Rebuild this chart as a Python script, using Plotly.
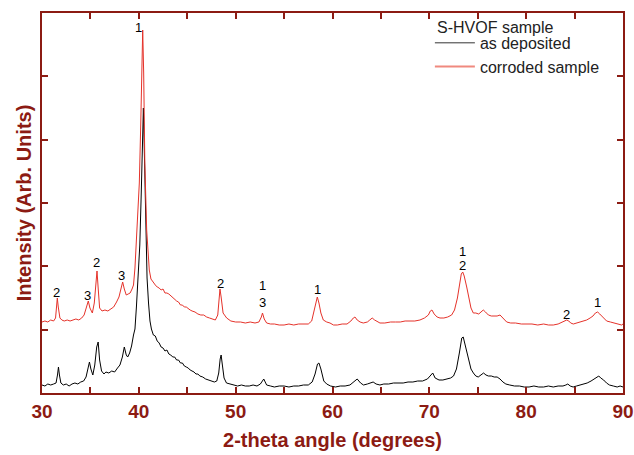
import plotly.graph_objects as go

# ---- data (2-theta in degrees, intensity in arbitrary units) ----
dep_x = [30.0,30.3,30.6,30.9,31.2,31.45,31.6,31.7,31.8,31.95,32.2,32.5,32.8,33.1,33.4,33.7,34.0,34.3,34.55,34.75,
         34.9,35.05,35.25,35.45,35.65,35.8,35.95,36.15,36.4,36.6,36.9,37.2,37.5,37.8,38.05,38.3,38.5,38.7,38.85,39.05,
         39.25,39.45,39.6,39.75,39.85,40.0,40.1,40.25,40.4,40.47,40.55,40.7,40.85,41.0,41.15,41.3,41.5,41.7,41.9,42.1,
         42.3,42.5,42.7,42.9,43.1,43.3,43.5,43.7,43.9,44.1,44.3,44.5,44.7,44.9,45.1,45.3,45.5,45.7,45.9,46.1,
         46.3,46.6,46.9,47.2,47.5,47.8,48.05,48.25,48.4,48.5,48.6,48.8,49.05,49.4,49.8,50.2,50.6,51.0,51.4,51.8,
         52.2,52.55,52.9,53.2,53.6,54.0,54.5,55.0,55.5,56.0,56.5,57.0,57.5,57.9,58.2,58.45,58.6,58.8,59.1,59.4,
         59.8,60.3,60.8,61.3,61.8,62.2,62.55,62.9,63.2,63.6,63.9,64.2,64.5,64.9,65.3,65.8,66.3,66.8,67.3,67.8,
         68.3,68.8,69.3,69.8,70.1,70.35,70.6,71.0,71.4,71.8,72.2,72.5,72.8,73.1,73.35,73.5,73.7,73.9,74.1,74.3,
         74.55,74.8,75.05,75.3,75.6,75.85,76.1,76.4,76.7,77.0,77.3,77.6,77.9,78.3,78.8,79.3,79.8,80.3,80.8,81.3,
         81.8,82.3,82.8,83.3,83.8,84.1,84.3,84.55,84.85,85.2,85.6,86.0,86.3,86.7,87.0,87.3,87.5,87.7,88.0,88.3,
         88.6,89.0,89.4,89.7,90.0]
dep_y = [8,7,9,8,9,10,18,26,18,10,8,9,7,9,10,9,11,12,16,26,
         31,24,18,28,46,51,33,22,19,21,20,22,21,25,28,36,46,38,36,40,
         47,58,64,86,103,135,148,200,270,285,250,170,115,90,72,64,58,57,52,50,
         46,45,42,43,39,38,36,36,33,33,30,30,27,26,25,23,22,21,19,19,
         17,16,14,13,12,11,12,20,34,38,30,15,10,9,8,7,8,7,7,8,
         7,9,14,8,7,6,7,7,6,7,7,8,8,11,19,29,30,24,12,9,
         7,6,7,7,8,11,14,10,8,9,10,11,9,8,9,9,10,10,10,11,
         11,12,12,14,17,20,15,13,13,14,15,17,24,40,55,56,48,40,30,24,
         20,17,16,18,20,18,17,17,16,16,14,11,9,8,7,7,6,6,7,6,
         6,7,6,7,7,8,9,7,6,7,8,9,10,12,14,16,17,15,13,10,
         8,7,6,7,6]

cor_x = [30.0,30.3,30.6,30.9,31.2,31.4,31.5,31.58,31.68,31.85,32.05,32.3,32.6,32.9,33.2,33.5,33.8,34.1,34.35,34.6,
         34.78,34.95,35.2,35.4,35.55,35.68,35.8,35.95,36.2,36.5,36.8,37.1,37.4,37.7,37.95,38.15,38.33,38.5,38.7,38.9,
         39.1,39.3,39.45,39.6,39.78,39.95,40.05,40.2,40.35,40.4,40.5,40.62,40.81,40.95,41.08,41.25,41.5,41.7,41.9,42.1,
         42.3,42.5,42.7,42.9,43.1,43.3,43.5,43.7,43.9,44.1,44.3,44.5,44.7,44.9,45.1,45.3,45.5,45.8,46.1,46.4,
         46.7,47.0,47.3,47.6,47.9,48.15,48.3,48.38,48.5,48.7,49.07,49.5,50.0,50.5,51.0,51.5,52.0,52.4,52.65,52.77,
         52.95,53.2,53.6,54.0,54.5,55.0,55.5,56.0,56.5,57.0,57.5,57.85,58.1,58.3,58.43,58.6,58.8,59.05,59.4,59.74,
         60.1,60.5,61.0,61.5,61.9,62.15,62.32,62.55,62.85,63.18,63.6,63.85,64.1,64.35,64.65,64.9,65.4,66.0,66.5,67.0,
         67.5,68.0,68.5,69.03,69.5,69.9,70.1,70.27,70.5,70.8,71.1,71.5,71.9,72.3,72.6,72.9,73.15,73.3,73.45,73.6,
         73.86,74.1,74.3,74.54,74.8,75.1,75.35,75.57,75.8,76.1,76.4,76.7,77.0,77.3,77.6,77.99,78.4,78.9,79.5,80.05,
         80.6,81.2,81.8,82.3,82.8,83.3,83.8,84.05,84.19,84.4,84.6,84.87,85.2,85.6,86.0,86.25,86.6,86.9,87.15,87.38,
         87.6,87.9,88.31,88.7,89.1,89.5,89.86,90.0]
cor_y = [71,72,71,73,72,75,86,95,86,75,73,72,73,72,73,74,73,75,78,86,
         92,85,80,90,108,122,105,85,82,83,82,84,86,91,96,104,111,104,98,99,
         100,104,108,125,160,195,210,270,350,363,320,230,163,135,123,114,110,108,106,105,
         103,104,100,100,99,97,96,93,92,91,88,88,86,86,84,83,82,81,79,78,
         78,76,75,74,73,78,96,104,96,80,75,72,71,71,70,71,70,71,76,80,
         74,70,69,69,68,68,69,68,69,69,69,72,82,93,96,90,80,73,71,70,
         68,68,69,69,72,75,76,73,71,70,71,73,75,73,71,70,70,71,71,71,
         72,72,72,73,75,78,82,83,79,76,75,75,76,78,83,95,110,119,121,117,
         106,93,85,80,80,79,81,83,81,78,77,77,77,78,75,71,70,70,69,69,
         69,68,69,68,68,69,71,72,73,72,70,69,70,71,72,73,75,77,80,81,
         79,76,72,71,70,69,68,69]

peak_labels = ["1", "2", "3", "2", "3", "2", "1", "3", "1", "1", "2", "2", "1"]
peak_x      = [39.95, 31.5, 34.7, 35.6, 38.2, 48.45, 52.8, 52.8, 58.4, 73.4, 73.4, 84.2, 87.4]
peak_y      = [366, 101, 98, 131, 118, 110, 108, 91, 104, 142, 128, 79, 91]

x_ticks = [30, 35, 40, 45, 50, 55, 60, 65, 70, 75, 80, 85, 90]
x_tick_text = ["30", "", "40", "", "50", "", "60", "", "70", "", "80", "", "90"]

legend_title = "S-HVOF sample"
series_names = ["as deposited", "corroded sample"]

AX = "#8C1B13"
RED = "#E5322A"
FONT = "Liberation Sans, Arial"

fig = go.Figure()
fig.add_trace(go.Scatter(x=dep_x, y=dep_y, mode="lines", line=dict(color="black", width=1),
                         showlegend=False, hoverinfo="skip"))
fig.add_trace(go.Scatter(x=cor_x, y=cor_y, mode="lines", line=dict(color=RED, width=1),
                         showlegend=False, hoverinfo="skip"))
# legend entries
fig.add_trace(go.Scatter(x=[None], y=[None], mode="lines", name=series_names[0],
                         line=dict(color="#333333", width=1)))
fig.add_trace(go.Scatter(x=[None], y=[None], mode="lines", name=series_names[1],
                         line=dict(color="#F0897F", width=2)))

for t, xx, yy in zip(peak_labels, peak_x, peak_y):
    fig.add_annotation(x=xx, y=yy, text=t, showarrow=False, xanchor="center", yanchor="middle",
                       font=dict(family=FONT, size=13, color="#000000"))

# legend heading
fig.add_annotation(x=0.6764, y=0.963, xref="paper", yref="paper", text=legend_title,
                   showarrow=False, xanchor="left", yanchor="middle",
                   font=dict(family=FONT, size=16, color="#222222"))

fig.update_layout(
    width=634, height=455,
    margin=dict(l=42, r=11, t=13, b=62),
    paper_bgcolor="white", plot_bgcolor="white",
    font=dict(family=FONT, color="#222222"),
    legend=dict(x=0.6676, y=0.966, xanchor="left", yanchor="top",
                bgcolor="rgba(0,0,0,0)", borderwidth=0,
                font=dict(size=16, color="#222222"),
                tracegroupgap=0, itemwidth=40),
)
fig.update_xaxes(range=[30, 90], tickmode="array", tickvals=x_ticks, ticktext=x_tick_text,
                 ticks="inside", ticklen=6, tickwidth=1.5, tickcolor=AX,
                 showline=True, linecolor=AX, linewidth=1.5, mirror="ticks",
                 showgrid=False, zeroline=False, automargin=False,
                 tickfont=dict(size=19, color=AX, family=FONT, weight="bold"),
                 title=dict(text="<b>2-theta angle (degrees)</b>", standoff=12,
                            font=dict(size=20, color=AX, family=FONT)))
fig.update_yaxes(range=[0, 380], tick0=0, dtick=380/6, showticklabels=False,
                 ticks="inside", ticklen=6, tickwidth=1.5, tickcolor=AX,
                 showline=True, linecolor=AX, linewidth=1.5, mirror="ticks",
                 showgrid=False, zeroline=False, automargin=False,
                 title=dict(text="<b>Intensity (Arb. Units)</b>", standoff=3,
                            font=dict(size=20, color=AX, family=FONT)))

fig.write_html("out.html", config={"displayModeBar": False},
               post_script="document.body.style.margin='0';document.body.style.overflow='hidden';")
